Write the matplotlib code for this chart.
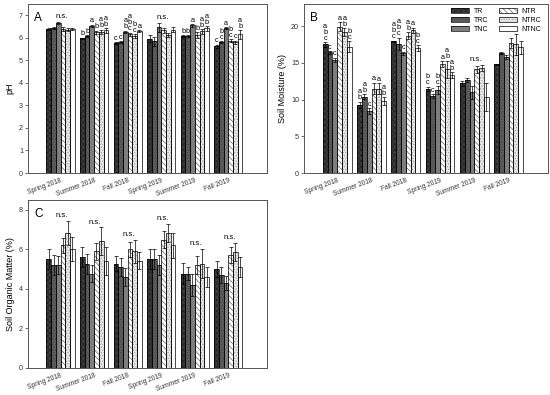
import matplotlib
matplotlib.use('Agg')
import matplotlib.pyplot as plt
import numpy as np

plt.rcParams['font.family'] = ['Liberation Sans', 'DejaVu Sans']
plt.rcParams['hatch.linewidth'] = 0.45

seasons = ['Spring 2018', 'Summer 2018', 'Fall 2018', 'Spring 2019', 'Summer 2019', 'Fall 2019']
treatments = ['TR', 'TRC', 'TNC', 'NTR', 'NTRC', 'NTNC']

# ---- pH ----
ph_TR = [6.39, 5.98, 5.77, 5.96, 6.07, 5.62]
ph_TRC = [6.43, 6.07, 5.81, 5.84, 6.07, 5.81]
ph_TNC = [6.66, 6.54, 6.26, 6.46, 6.55, 6.42]
ph_NTR = [6.39, 6.24, 6.15, 6.33, 6.12, 5.87]
ph_NTRC = [6.36, 6.26, 6.07, 6.12, 6.29, 5.80]
ph_NTNC = [6.39, 6.33, 6.29, 6.36, 6.42, 6.15]
ph_err_TR = [0.05, 0.03, 0.05, 0.15, 0.05, 0.08]
ph_err_TRC = [0.04, 0.04, 0.05, 0.20, 0.05, 0.05]
ph_err_TNC = [0.05, 0.05, 0.05, 0.20, 0.05, 0.05]
ph_err_NTR = [0.08, 0.08, 0.08, 0.10, 0.12, 0.06]
ph_err_NTRC = [0.06, 0.10, 0.10, 0.10, 0.10, 0.08]
ph_err_NTNC = [0.04, 0.10, 0.04, 0.10, 0.10, 0.20]
ph_letters = [None,
              ['b', 'b', 'a', 'b', 'ab', 'ab'],
              ['c', 'c', 'ab', 'abc', 'bc', 'a'],
              None,
              ['b', 'b', 'a', 'b', 'ab', 'ab'],
              ['c', 'bc', 'a', 'bc', 'c', 'ab']]

# ---- Soil moisture (%) ----
sm_TR = [17.5, 9.3, 17.9, 11.45, 12.2, 14.8]
sm_TRC = [16.4, 10.4, 17.6, 10.45, 12.65, 16.3]
sm_TNC = [15.4, 8.45, 16.3, 11.3, 11.0, 15.8]
sm_NTR = [19.9, 11.5, 18.7, 14.8, 14.1, 17.7]
sm_NTRC = [19.2, 11.5, 19.4, 14.1, 14.3, 17.5]
sm_NTNC = [17.2, 9.8, 17.0, 13.3, 10.4, 17.1]
sm_err_TR = [0.3, 0.4, 0.1, 0.3, 0.3, 0.1]
sm_err_TRC = [0.2, 0.3, 0.8, 0.3, 0.3, 0.1]
sm_err_TNC = [0.3, 0.4, 0.2, 0.5, 0.9, 0.3]
sm_err_NTR = [0.6, 0.8, 0.5, 0.4, 0.5, 0.7]
sm_err_NTRC = [0.5, 0.7, 0.4, 1.2, 0.4, 1.4]
sm_err_NTNC = [0.7, 0.5, 0.4, 0.4, 1.9, 0.9]
sm_letters = [['abc', 'c', 'c', 'a', 'ab', 'bc'],
              ['ab', 'ab', 'c', 'a', 'a', 'ab'],
              ['abc', 'abc', 'c', 'ab', 'a', 'bc'],
              ['bc', 'c', 'bc', 'a', 'ab', 'ab'],
              None,
              None]

# ---- Soil organic matter (%) ----
om_TR = [5.5, 5.6, 5.28, 5.5, 4.78, 5.0]
om_TRC = [5.23, 5.28, 5.11, 5.5, 4.78, 4.7]
om_TNC = [5.23, 4.78, 4.6, 5.2, 4.2, 4.3]
om_NTR = [6.2, 5.9, 6.0, 6.5, 5.2, 5.7]
om_NTRC = [6.83, 6.41, 5.9, 6.82, 5.28, 5.88]
om_NTNC = [6.03, 5.4, 5.43, 6.2, 4.6, 5.1]
om_err_TR = [0.5, 0.5, 0.37, 0.5, 0.55, 0.4]
om_err_TRC = [0.5, 0.5, 0.45, 0.5, 0.33, 0.4]
om_err_TNC = [0.45, 0.45, 0.45, 0.5, 0.55, 0.33]
om_err_NTR = [0.4, 0.42, 0.4, 0.42, 0.45, 0.4]
om_err_NTRC = [0.62, 0.7, 0.6, 0.47, 0.75, 0.45]
om_err_NTNC = [0.6, 0.7, 0.42, 0.63, 0.5, 0.5]
om_letters = [None] * 6

# styles: facecolor, hatch, hatch colour
styles = [('#3a3a3a', 'xxxxxx', '#222222'),
          ('#5c5c5c', '......', '#444444'),
          ('#7e7e7e', None, '#7e7e7e'),
          ('#ffffff', '\\\\\\\\\\\\', '#555555'),
          ('#e6e6e6', '......', '#9a9a9a'),
          ('#ffffff', None, '#ffffff')]

fig = plt.figure(figsize=(5.5, 3.95), dpi=100)
axA = fig.add_axes([28 / 550, 1 - 173 / 395, 239 / 550, 169 / 395])
axB = fig.add_axes([304 / 550, 1 - 173 / 395, 244 / 550, 169 / 395])
axC = fig.add_axes([28 / 550, 1 - 368 / 395, 239 / 550, 168 / 395])

bw = 0.14
x = np.arange(len(seasons))
TICK_FS = 4.8
ANN_FS = 5.3


def panel(ax, vals, errs, letters, ylim, yticks, ylabel, tag):
    span = ylim[1]
    handles = []
    for i, (v, e) in enumerate(zip(vals, errs)):
        fc, hatch, hc = styles[i]
        pos = x + (i - 2.5) * bw
        b1 = ax.bar(pos, v, bw, color=fc, hatch=hatch, edgecolor=hc, linewidth=0, zorder=2)
        b2 = ax.bar(pos, v, bw, facecolor='none', edgecolor='black', linewidth=0.5, zorder=3)
        ax.errorbar(pos, v, yerr=e, fmt='none', ecolor='black', elinewidth=0.5,
                    capsize=1.3, capthick=0.5, zorder=4)
        handles.append((b1.patches[0], b2.patches[0]))
    allv = np.array(vals)
    alle = np.array(errs)
    tops = allv + alle
    for g in range(len(seasons)):
        lg = letters[g]
        if lg is None:
            ax.text(x[g] + 0.03, tops[:, g].max() + span * 0.01, 'n.s.', ha='center',
                    va='bottom', fontsize=5.6, zorder=5)
        else:
            for i in range(6):
                ax.text(x[g] + (i - 2.5) * bw, tops[i, g] + span * 0.002, '\n'.join(lg[i]),
                        ha='center', va='bottom', fontsize=ANN_FS, linespacing=0.8, zorder=5)
    ax.set_xlim(-0.97, 6.15)
    ax.set_ylim(*ylim)
    ax.set_yticks(yticks)
    ax.set_xticks(x)
    ax.set_xticklabels(seasons, rotation=20, ha='right', rotation_mode='anchor')
    ax.tick_params(axis='both', labelsize=TICK_FS, length=2, width=0.5, pad=1.5, colors='#333333')
    ax.tick_params(axis='y', labelsize=5.2)
    ax.tick_params(axis='x', length=0, pad=3)
    ax.set_ylabel(ylabel, fontsize=6.5, labelpad=3)
    for s in ax.spines.values():
        s.set_linewidth(0.7)
        s.set_color('#555555')
    ax.text(0.025, 0.955, tag, transform=ax.transAxes, fontsize=8.5, ha='left', va='top')
    return handles


panel(axA, [ph_TR, ph_TRC, ph_TNC, ph_NTR, ph_NTRC, ph_NTNC],
      [ph_err_TR, ph_err_TRC, ph_err_TNC, ph_err_NTR, ph_err_NTRC, ph_err_NTNC],
      ph_letters, (0, 7.5), range(0, 8), 'pH', 'A')
hB = panel(axB, [sm_TR, sm_TRC, sm_TNC, sm_NTR, sm_NTRC, sm_NTNC],
           [sm_err_TR, sm_err_TRC, sm_err_TNC, sm_err_NTR, sm_err_NTRC, sm_err_NTNC],
           sm_letters, (0, 23), range(0, 21, 5), 'Soil Moisture (%)', 'B')
panel(axC, [om_TR, om_TRC, om_TNC, om_NTR, om_NTRC, om_NTNC],
      [om_err_TR, om_err_TRC, om_err_TNC, om_err_NTR, om_err_NTRC, om_err_NTNC],
      om_letters, (0, 8.5), range(0, 9, 2), 'Soil Organic Matter (%)', 'C')

leg = axB.legend(hB, treatments, ncol=2, loc='upper right', bbox_to_anchor=(0.995, 1.01),
                 frameon=False, fontsize=5, handlelength=2.7, handleheight=0.8,
                 handletextpad=0.6, columnspacing=1.5, labelspacing=0.3, borderpad=0.3)

fig.savefig('out.png', dpi=100)
